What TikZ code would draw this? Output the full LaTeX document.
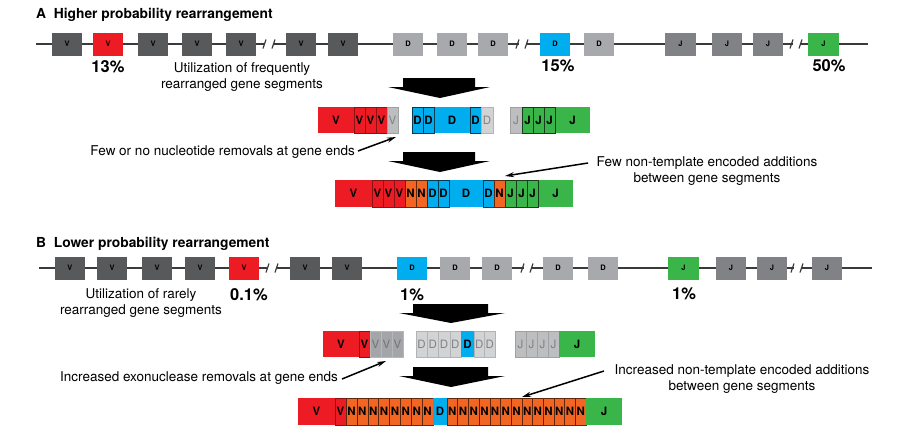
\documentclass[tikz,border=0pt]{standalone}
\usepackage{fontspec}
\setmainfont{TeX Gyre Heros}
\usetikzlibrary{arrows.meta}
\definecolor{vg}{HTML}{58595B}
\definecolor{jg}{HTML}{808285}
\definecolor{dg}{HTML}{A7A9AC}
\definecolor{cred}{HTML}{ED1C24}
\definecolor{cblue}{HTML}{00AEEF}
\definecolor{cgreen}{HTML}{39B54A}
\definecolor{corange}{HTML}{F26522}
\definecolor{cutg}{HTML}{BCBEC0}
\definecolor{cutl}{HTML}{D1D3D4}
\definecolor{cutm}{HTML}{A3A5A8}
\definecolor{gtext}{HTML}{808285}
\definecolor{chromc}{HTML}{3A3A3C}
\newcommand\seg[7]{\node[cell,#6,minimum width={(#3-#2)*1pt},minimum height={(#5-#4)*1pt}] (#1) at ({(#2+#3)/2},{(#4+#5)/2}) {#7};}
\newcommand\gene[5]{\node[gbox,#4,minimum width={(#3-#2)*1pt},minimum height=23pt] (#1) at ({(#2+#3)/2},#5) {\strut};}
\begin{document}
\begin{tikzpicture}[x=1pt,y=-1pt,
  cell/.style={inner sep=0pt,outer sep=0pt,font=\fontsize{11.5}{11.5}\selectfont\bfseries,text=black},
  gbox/.style={inner sep=0pt,outer sep=0pt},
  glab/.style={font=\fontsize{7.5}{7.5}\selectfont\bfseries,text=black,inner sep=0pt},
  redc/.style={fill=cred},
  redo/.style={fill=cred,draw=cred!60!black,line width=0.5pt},
  bluec/.style={fill=cblue},
  blueo/.style={fill=cblue,draw=cblue!35!black,line width=0.5pt},
  greenc/.style={fill=cgreen},
  greeno/.style={fill=cgreen,draw=cgreen!35!black,line width=0.5pt},
  orangeo/.style={fill=corange,draw=corange!40!black,line width=0.5pt},
  gcut/.style={fill=cutg,draw=cutg!85!black,line width=0.3pt,text=gtext,font=\fontsize{11.5}{11.5}\selectfont},
  lcut/.style={fill=cutl,draw=cutl!85!black,line width=0.3pt,text=gtext,font=\fontsize{11.5}{11.5}\selectfont},
  mcut/.style={fill=cutm,draw=cutm!80!white,line width=0.3pt,text=jg!90!black,font=\fontsize{11.5}{11.5}\selectfont},
  chrom/.style={draw=chromc,line width=1.4pt},
  slash/.style={draw=chromc,line width=1.2pt},
  pct/.style={font=\fontsize{16.5}{16.5}\selectfont\bfseries,inner sep=0pt},
  note/.style={font=\fontsize{13.5}{16}\selectfont,align=center,inner sep=0pt},
  ttl/.style={font=\fontsize{13.8}{14}\selectfont\bfseries,inner sep=0pt,anchor=west},
  bigarrow/.style={fill=black},
  pointer/.style={draw=black,line width=1.5pt,-{Stealth[length=9pt,width=5pt]}}
]
\useasboundingbox[fill=white] (0,0) rectangle (907,445);

% ================= A =================
\node[ttl] (ta) at (36,15) {A\ \ Higher probability rearrangement};

\draw[chrom] (36,44) -- (265,44) (274,44) -- (519,44) (527,44) -- (793,44) (801,44) -- (868,44);
\foreach \c in {269,522,796}{
  \draw[slash] (\c-6,48.5) -- (\c-3,39.5);
  \draw[slash] (\c+3,48.5) -- (\c+6,39.5);
}
\gene{a1}{52}{82}{fill=vg}{44}
\gene{a2}{93}{123}{fill=cred}{44}
\gene{a3}{138}{168}{fill=vg}{44}
\gene{a4}{182}{212}{fill=vg}{44}
\gene{a5}{226}{256}{fill=vg}{44}
\gene{a6}{286}{316}{fill=vg}{44}
\gene{a7}{328}{358}{fill=vg}{44}
\gene{a8}{393}{423}{fill=dg}{44}
\gene{a9}{437}{467}{fill=dg}{44}
\gene{a10}{478}{508}{fill=dg}{44}
\gene{a11}{540}{570}{fill=cblue}{44}
\gene{a12}{584}{614}{fill=dg}{44}
\gene{a13}{665}{696}{fill=jg}{44}
\gene{a14}{712}{742}{fill=jg}{44}
\gene{a15}{753}{783}{fill=jg}{44}
\gene{a16}{808}{839}{fill=cgreen}{44}
\foreach \n in {a1,a2,a3,a4,a5,a6,a7}{\node[glab] (l\n) at (\n) {V};}
\foreach \n in {a8,a9,a10,a11,a12}{\node[glab] (l\n) at (\n) {D};}
\foreach \n in {a13,a14,a15,a16}{\node[glab] (l\n) at (\n) {J};}

\node[pct] (pa1) at (108,67) {13\%};
\node[pct] (pa2) at (558,66) {15\%};
\node[pct] (pa3) at (829,66) {50\%};
\node[note] (ua) at (242,77) {Utilization of frequently\\rearranged gene segments};

\fill[bigarrow] (403,78) -- (475,78) -- (475,87) -- (490,87) -- (440,98) -- (388,87) -- (403,87) -- cycle;

% row A2
\seg{a2v}{318}{354}{107}{133}{redc}{V}
\seg{a2d}{434}{470}{107}{133}{bluec}{D}
\seg{a2j}{555}{590}{107}{133}{greenc}{J}
\seg{a2v1}{354}{365}{107}{133}{redo}{V}
\seg{a2v2}{365}{376}{107}{133}{redo}{V}
\seg{a2v3}{376}{387}{107}{133}{redo}{V}
\seg{a2vx}{387}{398}{107}{133}{gcut}{V}
\seg{a2d1}{412}{423}{107}{133}{blueo}{D}
\seg{a2d2}{423}{434}{107}{133}{blueo}{D}
\seg{a2d3}{470}{481}{107}{133}{blueo}{D}
\seg{a2dx}{481}{493}{107}{133}{lcut}{D}
\seg{a2jx}{510}{522}{107}{133}{gcut}{J}
\seg{a2j1}{522}{533}{107}{133}{greeno}{J}
\seg{a2j2}{533}{544}{107}{133}{greeno}{J}
\seg{a2j3}{544}{555}{107}{133}{greeno}{J}

\node[note,anchor=east] (na1) at (355,152) {Few or no nucleotide removals at gene ends};
\coordinate (na1t) at (396,137);
\draw[pointer] ([xshift=3pt,yshift=1pt]na1.east) -- (na1t);

\fill[bigarrow] (403,152) -- (475,152) -- (475,161) -- (490,161) -- (440,172) -- (388,161) -- (403,161) -- cycle;

\node[note] (na2) at (707,171) {Few non-template encoded additions\\between gene segments};
\coordinate (na2s) at (588,163);
\coordinate (na2t) at (505,176);
\draw[pointer] (na2s) -- (na2t);

% row A3
\seg{a3v}{335}{372}{180}{207}{redc}{V}
\seg{a3d}{449}{483}{180}{207}{bluec}{D}
\seg{a3j}{538}{573}{180}{207}{greenc}{J}
\seg{a3v1}{372}{383}{180}{207}{redo}{V}
\seg{a3v2}{383}{394}{180}{207}{redo}{V}
\seg{a3v3}{394}{405}{180}{207}{redo}{V}
\seg{a3n1}{405}{416}{180}{207}{orangeo}{N}
\seg{a3n2}{416}{427}{180}{207}{orangeo}{N}
\seg{a3d1}{427}{438}{180}{207}{blueo}{D}
\seg{a3d2}{438}{449}{180}{207}{blueo}{D}
\seg{a3d3}{483}{494}{180}{207}{blueo}{D}
\seg{a3n3}{494}{505}{180}{207}{orangeo}{N}
\seg{a3j1}{505}{516}{180}{207}{greeno}{J}
\seg{a3j2}{516}{527}{180}{207}{greeno}{J}
\seg{a3j3}{527}{538}{180}{207}{greeno}{J}

% ================= B =================
\node[ttl] (tb) at (36,244) {B\ \ Lower probability rearrangement};

\draw[chrom] (39,268) -- (268,268) (277,268) -- (524,268) (532,268) -- (794,268) (802,268) -- (872,268);
\foreach \c in {272,527,797}{
  \draw[slash] (\c-6,272.5) -- (\c-3,263.5);
  \draw[slash] (\c+3,272.5) -- (\c+6,263.5);
}
\gene{b1}{55}{85}{fill=vg}{268}
\gene{b2}{97}{127}{fill=vg}{268}
\gene{b3}{142}{172}{fill=vg}{268}
\gene{b4}{185}{215}{fill=vg}{268}
\gene{b5}{229}{259}{fill=cred}{268}
\gene{b6}{290}{320}{fill=vg}{268}
\gene{b7}{332}{362}{fill=vg}{268}
\gene{b8}{397}{427}{fill=cblue}{268}
\gene{b9}{440}{470}{fill=dg}{268}
\gene{b10}{482}{512}{fill=dg}{268}
\gene{b11}{543}{573}{fill=dg}{268}
\gene{b12}{588}{618}{fill=dg}{268}
\gene{b13}{668}{699}{fill=cgreen}{268}
\gene{b14}{716}{746}{fill=jg}{268}
\gene{b15}{757}{787}{fill=jg}{268}
\gene{b16}{812}{842}{fill=jg}{268}
\foreach \n in {b1,b2,b3,b4,b5,b6,b7}{\node[glab] (l\n) at (\n) {V};}
\foreach \n in {b8,b9,b10,b11,b12}{\node[glab] (l\n) at (\n) {D};}
\foreach \n in {b13,b14,b15,b16}{\node[glab] (l\n) at (\n) {J};}

\node[pct] (pb1) at (249,295) {0.1\%};
\node[pct] (pb2) at (412,295) {1\%};
\node[pct] (pb3) at (684,294) {1\%};
\node[note] (ub) at (141,303) {Utilization of rarely\\rearranged gene segments};

\fill[bigarrow] (413,304) -- (488,304) -- (488,313) -- (505,313) -- (451,323) -- (399,313) -- (413,313) -- cycle;

% row B2
\seg{b2v}{323}{359}{331}{357}{redc}{V}
\seg{b2v1}{359}{370}{331}{357}{redo}{V}
\seg{b2vx1}{370}{381}{331}{357}{mcut}{V}
\seg{b2vx2}{381}{392}{331}{357}{mcut}{V}
\seg{b2vx3}{392}{403}{331}{357}{mcut}{V}
\seg{b2dx1}{416}{427.25}{331}{357}{lcut}{D}
\seg{b2dx2}{427.25}{438.5}{331}{357}{lcut}{D}
\seg{b2dx3}{438.5}{449.75}{331}{357}{lcut}{D}
\seg{b2dx4}{449.75}{461}{331}{357}{lcut}{D}
\seg{b2d}{461}{474}{331}{357}{bluec}{D}
\seg{b2dx5}{474}{484.5}{331}{357}{lcut}{D}
\seg{b2dx6}{484.5}{495}{331}{357}{lcut}{D}
\seg{b2jx1}{515}{526}{331}{357}{gcut}{J}
\seg{b2jx2}{526}{537}{331}{357}{gcut}{J}
\seg{b2jx3}{537}{548}{331}{357}{gcut}{J}
\seg{b2jx4}{548}{559}{331}{357}{gcut}{J}
\seg{b2j}{559}{595}{331}{357}{greenc}{J}

\node[note,anchor=east] (nb1) at (338,378) {Increased exonuclease removals at gene ends};
\coordinate (nb1t) at (386,361);
\draw[pointer] ([xshift=4pt,yshift=-1pt]nb1.east) -- (nb1t);

\fill[bigarrow] (413,367) -- (488,367) -- (488,376) -- (505,376) -- (451,387) -- (399,376) -- (413,376) -- cycle;

\node[note] (nb2) at (742,379) {Increased non-template encoded additions\\between gene segments};
\coordinate (nb2s) at (604,371);
\coordinate (nb2t) at (522,397);
\draw[pointer] (nb2s) -- (nb2t);

% row B3
\seg{b3v}{298}{335}{398}{425}{redc}{V}
\seg{b3v1}{335}{346}{398}{425}{redo}{V}
\foreach \i in {0,...,7}{
  \pgfmathsetmacro\xa{346+\i*10.875}
  \pgfmathsetmacro\xb{\xa+10.875}
  \seg{b3n\i}{\xa}{\xb}{398}{425}{orangeo}{N}
}
\seg{b3d}{433}{447}{398}{425}{bluec}{D}
\foreach \i in {0,...,12}{
  \pgfmathsetmacro\xa{447+\i*10.6923}
  \pgfmathsetmacro\xb{\xa+10.6923}
  \seg{b3m\i}{\xa}{\xb}{398}{425}{orangeo}{N}
}
\seg{b3j}{586}{622}{398}{425}{greenc}{J}
\end{tikzpicture}
\end{document}
